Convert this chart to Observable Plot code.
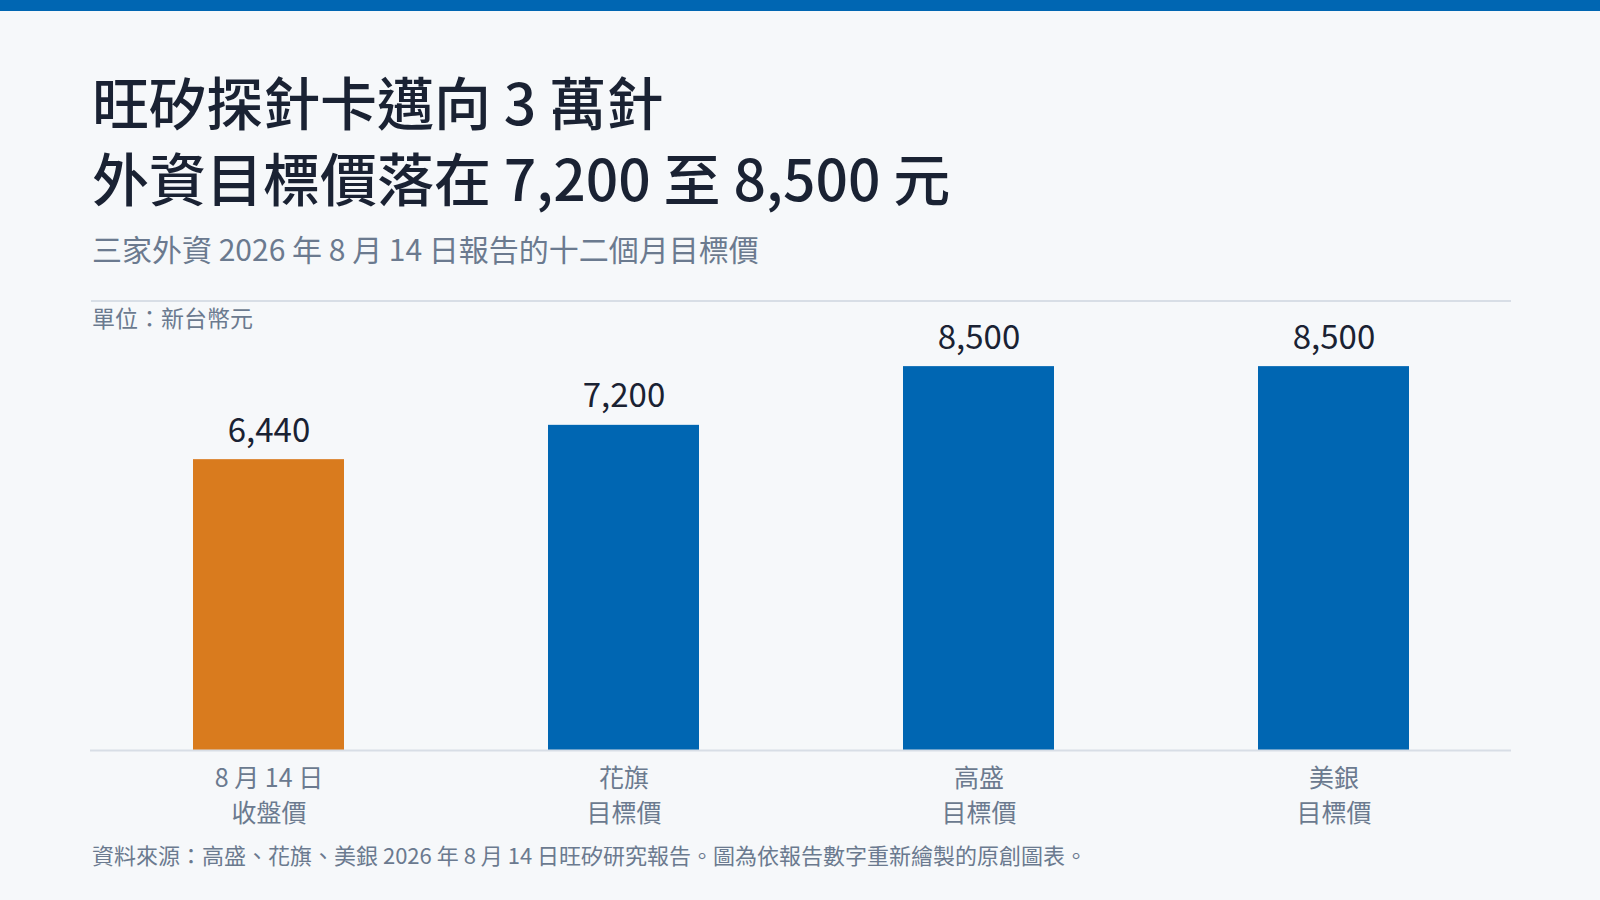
<!DOCTYPE html>
<html>
<head>
<meta charset="utf-8">
<script src="https://cdn.jsdelivr.net/npm/d3@7"></script>
<script src="https://cdn.jsdelivr.net/npm/@observablehq/plot@0.6"></script>
<style>
  html, body { margin: 0; padding: 0; }
  body {
    width: 1600px; height: 900px; position: relative; overflow: hidden;
    background: #f6f8fa;
    font-family: "Noto Sans CJK TC", "Noto Sans", sans-serif;
  }
  .topbar { position: absolute; left: 0; top: 0; width: 1600px; height: 11px; background: #0066b2; }
  .title { position: absolute; left: 92px; top: 62px; font-size: 57px; line-height: 76px; font-weight: 500; color: #1a2233; white-space: nowrap; }
  .subtitle { position: absolute; left: 92px; top: 233px; font-size: 30px; line-height: 1; color: #6b7a8f; white-space: nowrap; }
  .divider { position: absolute; left: 91px; top: 300px; width: 1420px; height: 2px; background: #d8dee6; }
  .unit { position: absolute; left: 92px; top: 306px; font-size: 23px; line-height: 1; color: #6b7a8f; white-space: nowrap; }
  .caption { position: absolute; left: 92px; top: 843px; font-size: 22px; line-height: 1; color: #6b7a8f; white-space: nowrap; }
  #chart { position: absolute; left: 90px; top: 270px; }
</style>
</head>
<body>
<div class="topbar"></div>
<div class="title">旺矽探針卡邁向 3 萬針<br>外資目標價落在 7,200 至 8,500 元</div>
<div class="subtitle">三家外資 2026 年 8 月 14 日報告的十二個月目標價</div>
<div class="divider"></div>
<div class="unit">單位：新台幣元</div>
<div id="chart"></div>
<div class="caption">資料來源：高盛、花旗、美銀 2026 年 8 月 14 日旺矽研究報告。圖為依報告數字重新繪製的原創圖表。</div>
<script>
const categories = ["8 月 14 日\n收盤價", "花旗\n目標價", "高盛\n目標價", "美銀\n目標價"];
const values = [6440, 7200, 8500, 8500];
const kinds = ["close", "target", "target", "target"];

const data = categories.map((c, i) => ({category: c, value: values[i], kind: kinds[i]}));
const fmt = d3.format(",");

const chart = Plot.plot({
  width: 1421,
  height: 560,
  marginTop: 60,
  marginBottom: 80,
  marginLeft: 0,
  marginRight: 0,
  style: {background: "transparent", fontFamily: "'Noto Sans CJK TC', sans-serif", overflow: "visible"},
  x: {domain: categories, paddingInner: 0.575, paddingOuter: 0.2875, label: null},
  y: {domain: [0, 9300], axis: null},
  color: {domain: ["close", "target"], range: ["#d97b1e", "#0066b2"]},
  marks: [
    Plot.barY(data, {x: "category", y: "value", fill: "kind"}),
    Plot.ruleY([0], {stroke: "#d8dee6", strokeWidth: 2}),
    Plot.text(data, {x: "category", y: "value", text: d => fmt(d.value), lineAnchor: "bottom", dy: -18, fontSize: 33, fill: "#1a2233"}),
    Plot.axisX({tickSize: 0, tickPadding: 12, fontSize: 25, lineHeight: 1.39, fill: "#6b7a8f", label: null})
  ]
});
document.getElementById("chart").appendChild(chart);
</script>
</body>
</html>
